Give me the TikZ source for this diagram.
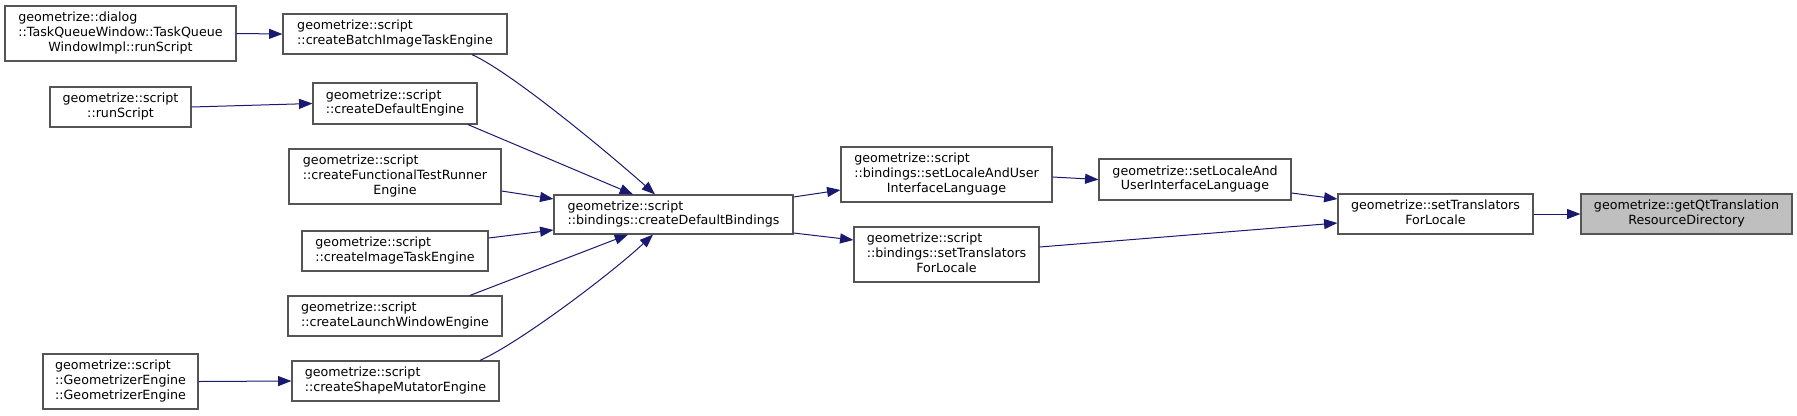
\documentclass[tikz,border=0pt]{standalone}
\usepackage{fontspec}
\setmainfont{DejaVu Sans}
\usetikzlibrary{arrows.meta,calc}
\definecolor{edgecol}{HTML}{191970}
\definecolor{boxline}{HTML}{555555}
\definecolor{rootfill}{HTML}{BFBFBF}
\newcommand\twol[2]{\begin{tabular}{@{}l@{}}#1\\\multicolumn{1}{@{}c@{}}{#2}\end{tabular}}
\newcommand\threel[3]{\begin{tabular}{@{}l@{}}#1\\#2\\\multicolumn{1}{@{}c@{}}{#3}\end{tabular}}
\tikzset{
  fn/.style={draw=boxline, line width=0.9pt, fill=white, inner sep=0pt,
    font=\fontsize{9.5}{11}\selectfont},
  rootfn/.style={fn, fill=rootfill},
  edge/.style={draw=edgecol, line width=0.75pt, -{Triangle[length=10pt,width=7.5pt]}},
}
\begin{document}
\begin{tikzpicture}[x=0.75pt, y=-0.75pt]
\useasboundingbox (0,0) rectangle (1797,415);
% nodes
\node[fn, minimum width=231*0.75pt, minimum height=55*0.75pt] (dialog) at (120.5,33.5)
  {\threel{geometrize::dialog}{::TaskQueueWindow::TaskQueue}{WindowImpl::runScript}};
\node[fn, minimum width=224*0.75pt, minimum height=40*0.75pt] (batch) at (395,34)
  {\twol{geometrize::script}{::createBatchImageTaskEngine}};
\node[fn, minimum width=141*0.75pt, minimum height=40*0.75pt] (runscript) at (120.5,107)
  {\twol{geometrize::script}{::runScript}};
\node[fn, minimum width=164*0.75pt, minimum height=41*0.75pt] (defengine) at (395,103.5)
  {\twol{geometrize::script}{::createDefaultEngine}};
\node[fn, minimum width=212*0.75pt, minimum height=55*0.75pt] (functional) at (395,176.5)
  {\threel{geometrize::script}{::createFunctionalTestRunner}{Engine}};
\node[fn, minimum width=186*0.75pt, minimum height=40*0.75pt] (imagetask) at (395,251)
  {\twol{geometrize::script}{::createImageTaskEngine}};
\node[fn, minimum width=214*0.75pt, minimum height=40*0.75pt] (launch) at (395,316)
  {\twol{geometrize::script}{::createLaunchWindowEngine}};
\node[fn, minimum width=155*0.75pt, minimum height=55*0.75pt] (geomengine) at (120.5,381.5)
  {\threel{geometrize::script}{::GeometrizerEngine}{::GeometrizerEngine}};
\node[fn, minimum width=207*0.75pt, minimum height=40*0.75pt] (shape) at (395.5,381)
  {\twol{geometrize::script}{::createShapeMutatorEngine}};
\node[fn, minimum width=239*0.75pt, minimum height=39*0.75pt] (cdb) at (673.5,214.5)
  {\twol{geometrize::script}{::bindings::createDefaultBindings}};
\node[fn, minimum width=211*0.75pt, minimum height=55*0.75pt] (blocale) at (946.5,174.5)
  {\threel{geometrize::script}{::bindings::setLocaleAndUser}{InterfaceLanguage}};
\node[fn, minimum width=185*0.75pt, minimum height=55*0.75pt] (btrans) at (946.5,254.5)
  {\threel{geometrize::script}{::bindings::setTranslators}{ForLocale}};
\node[fn, minimum width=192*0.75pt, minimum height=41*0.75pt] (locale) at (1195,179.5)
  {\twol{geometrize::setLocaleAnd}{UserInterfaceLanguage}};
\node[fn, minimum width=195*0.75pt, minimum height=40*0.75pt] (trans) at (1435.5,214)
  {\twol{geometrize::setTranslators}{ForLocale}};
\node[rootfn, minimum width=211*0.75pt, minimum height=40*0.75pt] (getqt) at (1686.5,214)
  {\twol{geometrize::getQtTranslation}{ResourceDirectory}};
% edges
\draw[edge] (dialog.east) -- (batch.west);
\draw[edge] (runscript.east) -- (defengine.west);
\draw[edge] (geomengine.east) -- (shape.west);
\draw[edge] ($(batch.south)+(77,0)$) .. controls +(40,18) and +(-45,-40) .. ($(cdb.north)+(-18.5,0)$);
\draw[edge] ($(defengine.south)+(73,0)$) -- ($(cdb.north)+(-40.5,0)$);
\draw[edge] ($(functional.east)+(0,14.5)$) -- ($(cdb.west)+(0,-15.5)$);
\draw[edge] ($(imagetask.east)+(0,-13)$) -- ($(cdb.west)+(0,15.5)$);
\draw[edge] ($(launch.north)+(75,0)$) -- ($(cdb.south)+(-45.5,0)$);
\draw[edge] ($(shape.north)+(84.5,0)$) .. controls +(40,-18) and +(-43,40) .. ($(cdb.south)+(-20.5,0)$);
\draw[edge] ($(cdb.east)+(0,-17.5)$) -- ($(blocale.west)+(0,15.5)$);
\draw[edge] ($(cdb.east)+(0,18.5)$) -- ($(btrans.west)+(0,-14.5)$);
\draw[edge] ($(blocale.east)+(0,2.5)$) -- (locale.west);
\draw[edge] ($(locale.east)+(0,13.5)$) -- ($(trans.west)+(0,-15)$);
\draw[edge] ($(btrans.east)+(0,-7.5)$) -- ($(trans.west)+(0,9)$);
\draw[edge] (trans.east) -- (getqt.west);
\end{tikzpicture}
\end{document}
